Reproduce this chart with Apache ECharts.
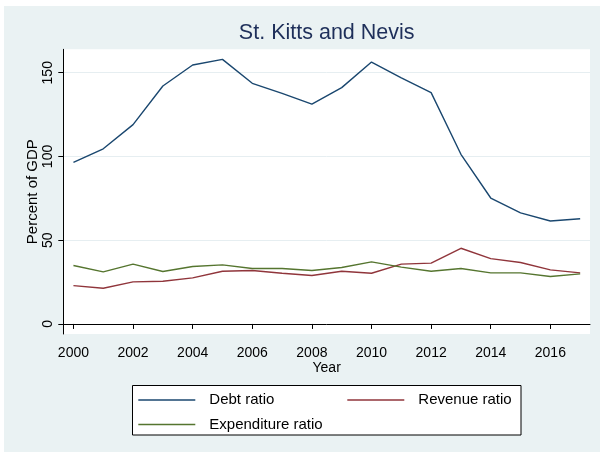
<!DOCTYPE html>
<html>
<head>
<meta charset="utf-8">
<title>St. Kitts and Nevis</title>
<script src="https://cdn.jsdelivr.net/npm/echarts@6/dist/echarts.min.js"></script>
<style>
  html, body { margin: 0; padding: 0; background: #ffffff; }
  #chart { width: 600px; height: 452px; }
</style>
</head>
<body>
<div id="chart"></div>
<script>
// Fiscal ratios, percent of GDP
const years = [2000, 2001, 2002, 2003, 2004, 2005, 2006, 2007, 2008,
               2009, 2010, 2011, 2012, 2013, 2014, 2015, 2016, 2017];
const debtRatio = [96.5, 104.6, 119.0, 142.1, 154.6, 158.0, 143.7, 137.7, 131.3,
                   141.1, 156.4, 147.0, 138.1, 101.3, 75.2, 66.3, 61.5, 62.8];
const revenueRatio = [22.9, 21.3, 25.1, 25.5, 27.5, 31.5, 31.9, 30.3, 28.9,
                      31.5, 30.3, 35.7, 36.3, 45.2, 39.0, 36.7, 32.3, 30.5];
const expenditureRatio = [34.9, 31.1, 35.7, 31.3, 34.3, 35.3, 33.1, 33.1, 31.9,
                          33.7, 37.1, 33.9, 31.5, 33.1, 30.5, 30.5, 28.3, 29.9];

// Axis ticks
const xTicks = [2000, 2002, 2004, 2006, 2008, 2010, 2012, 2014, 2016];
const yTicks = [0, 50, 100, 150];

const seriesNames = ['Debt ratio', 'Revenue ratio', 'Expenditure ratio'];
const seriesColors = ['#1a476f', '#90353b', '#55752f'];

const pairs = vals => years.map((y, i) => [y, vals[i]]);

const FONT = '"Liberation Sans", Arial, Helvetica, sans-serif';

const chart = echarts.init(document.getElementById('chart'), null, { renderer: 'canvas' });

chart.setOption({
  backgroundColor: '#ffffff',
  animation: false,
  textStyle: { fontFamily: FONT },
  graphic: [
    {
      type: 'rect', z: -100, silent: true,
      shape: { x: 4, y: 6, width: 596, height: 446 },
      style: { fill: '#eaf2f3' }
    },
    {
      type: 'rect', z: 1, silent: true,
      shape: { x: 132.5, y: 385.5, width: 388.5, height: 49.5 },
      style: { fill: '#ffffff', stroke: '#000000', lineWidth: 1 }
    }
  ],
  title: {
    text: 'St. Kitts and Nevis',
    left: 326.7,
    top: 22,
    padding: 0,
    textAlign: 'center',
    textStyle: { fontFamily: FONT, fontSize: 21.5, fontWeight: 'normal', color: '#1e2f5a' }
  },
  legend: {
    data: seriesNames,
    left: 138.3,
    top: 392.5,
    width: 420,
    padding: 0,
    icon: 'rect',
    itemWidth: 57,
    itemHeight: 1.4,
    itemGap: 9.5,
    z: 5,
    textStyle: {
      fontFamily: FONT, fontSize: 15, lineHeight: 15, color: '#000000',
      width: 128.5, padding: [0, 0, 0, 9]
    }
  },
  grid: {
    left: 63.3, top: 49.3, width: 526.7, height: 284.7,
    show: true, backgroundColor: '#ffffff', borderWidth: 0
  },
  xAxis: {
    type: 'value',
    min: 1999.66, max: 2017.33,
    name: 'Year',
    nameLocation: 'middle',
    nameGap: 27,
    nameMoveOverlap: false,
    nameTextStyle: { fontFamily: FONT, fontSize: 14, color: '#000000' },
    axisLine: { show: true, lineStyle: { color: '#000000', width: 1 } },
    axisTick: { show: true, length: 5, customValues: xTicks, lineStyle: { color: '#000000' } },
    axisLabel: {
      customValues: xTicks, margin: 12, fontSize: 14, color: '#000000', fontFamily: FONT,
      formatter: v => String(v)
    },
    splitLine: { show: false }
  },
  yAxis: {
    type: 'value',
    min: -6, max: 164,
    name: 'Percent of GDP',
    nameLocation: 'middle',
    nameGap: 23,
    nameMoveOverlap: false,
    nameTextStyle: { fontFamily: FONT, fontSize: 15, color: '#000000' },
    axisLine: { show: true, lineStyle: { color: '#000000', width: 1 } },
    axisTick: { show: true, length: 5, customValues: yTicks, lineStyle: { color: '#000000' } },
    axisLabel: {
      customValues: yTicks, rotate: 90, margin: 8, fontSize: 14, color: '#000000', fontFamily: FONT
    },
    splitLine: { show: true, lineStyle: { color: '#e6eef1', width: 1 } }
  },
  series: [
    { name: seriesNames[0], data: pairs(debtRatio) },
    { name: seriesNames[1], data: pairs(revenueRatio) },
    { name: seriesNames[2], data: pairs(expenditureRatio) }
  ].map((s, i) => ({
    type: 'line',
    name: s.name,
    data: s.data,
    symbol: 'none',
    color: seriesColors[i],
    lineStyle: { color: seriesColors[i], width: 1.4 },
    z: 3
  }))
});
</script>
</body>
</html>
